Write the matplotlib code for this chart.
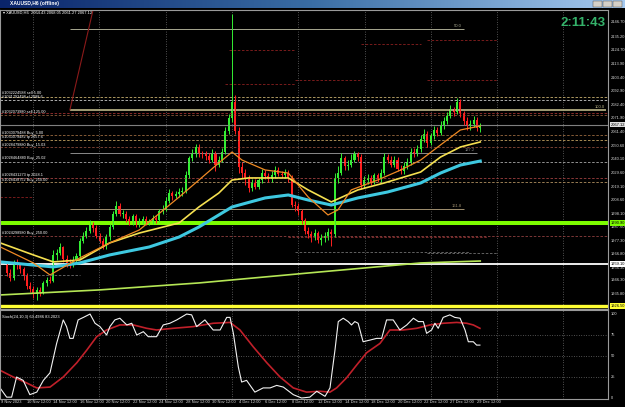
import matplotlib
matplotlib.use("Agg")
import matplotlib.pyplot as plt
import numpy as np
from matplotlib.colors import LinearSegmentedColormap
from matplotlib.patches import Rectangle

plt.rcParams['font.family'] = ['Liberation Sans', 'DejaVu Sans']

# XAUUSD H6 bars, index 0 = 9 Nov 2023 00:00
first_open = 1958.0
closes = [1952, 1948, 1960, 1958, 1955, 1950, 1942, 1940,
          1936, 1939, 1937, 1944, 1947, 1946, 1966, 1968,
          1972, 1963, 1960, 1959, 1962, 1965, 1977, 1981,
          1985, 1990, 1987, 1981, 1977, 1973, 1980, 1988,
          1998, 2004, 1998, 1998, 1994, 1991, 1996, 1990,
          1992, 1994, 1991, 1992, 1995, 1993, 2000, 2002,
          2008, 2014, 2012, 2013, 2015, 2016, 2028, 2041,
          2044, 2050, 2045, 2044, 2043, 2040, 2045, 2036,
          2040, 2046, 2062, 2072, 2085, 2062, 2034, 2030,
          2025, 2018, 2022, 2019, 2024, 2030, 2027, 2025,
          2028, 2032, 2029, 2028, 2030, 2026, 2005, 2004,
          2000, 1993, 1985, 1982, 1980, 1983, 1978, 1979,
          1981, 1984, 1982, 2026, 2030, 2041, 2035, 2036,
          2040, 2044, 2042, 2020, 2024, 2026, 2023, 2028,
          2025, 2030, 2042, 2040, 2036, 2040, 2033, 2031,
          2035, 2038, 2046, 2045, 2048, 2056, 2060, 2053,
          2058, 2063, 2061, 2067, 2070, 2074, 2079, 2077,
          2085, 2076, 2070, 2066, 2068, 2071, 2064.43, 2067.12]
highs = [1960, 1955, 1962, 1963, 1960, 1957, 1952, 1945,
         1942, 1941, 1941, 1946, 1949, 1950, 1970, 1971,
         1975, 1973, 1966, 1963, 1965, 1968, 1979, 1984,
         1988, 1993, 1992, 1989, 1983, 1979, 1982, 1990,
         2000, 2008, 2006, 2001, 2000, 1996, 1998, 1998,
         1995, 1996, 1996, 1994, 1997, 1997, 2002, 2005,
         2011, 2017, 2016, 2016, 2018, 2019, 2031, 2043,
         2048, 2052, 2052, 2047, 2047, 2045, 2048, 2047,
         2043, 2049, 2065, 2075, 2153, 2090, 2065, 2038,
         2033, 2028, 2025, 2025, 2026, 2033, 2032, 2030,
         2031, 2035, 2034, 2031, 2033, 2032, 2028, 2008,
         2006, 2002, 1995, 1988, 1985, 1986, 1985, 1982,
         1984, 1987, 1986, 2030, 2035, 2045, 2043, 2040,
         2044, 2047, 2046, 2044, 2027, 2029, 2028, 2030,
         2030, 2033, 2045, 2044, 2043, 2043, 2042, 2036,
         2038, 2041, 2049, 2049, 2051, 2059, 2064, 2062,
         2061, 2066, 2065, 2070, 2073, 2077, 2082, 2081,
         2088, 2087, 2078, 2073, 2071, 2074, 2073, 2068.05]
lows = [1950, 1946, 1947, 1955, 1952, 1947, 1940, 1937,
        1933, 1931, 1934, 1936, 1942, 1944, 1945, 1962,
        1966, 1961, 1957, 1956, 1957, 1960, 1963, 1975,
        1979, 1983, 1984, 1979, 1975, 1971, 1971, 1978,
        1986, 1996, 1996, 1995, 1992, 1989, 1989, 1988,
        1988, 1990, 1989, 1989, 1990, 1991, 1992, 1998,
        2000, 2006, 2009, 2010, 2011, 2012, 2014, 2026,
        2039, 2042, 2042, 2041, 2040, 2037, 2038, 2031,
        2034, 2038, 2044, 2060, 2069, 2060, 2030, 2026,
        2020, 2015, 2016, 2017, 2017, 2022, 2025, 2023,
        2023, 2026, 2027, 2026, 2026, 2023, 2003, 2000,
        1997, 1990, 1982, 1979, 1976, 1978, 1975, 1974,
        1976, 1978, 1973, 1980, 2022, 2028, 2032, 2032,
        2034, 2038, 2039, 2017, 2018, 2021, 2020, 2021,
        2023, 2023, 2028, 2037, 2034, 2034, 2031, 2029,
        2029, 2033, 2036, 2042, 2043, 2046, 2054, 2050,
        2051, 2056, 2058, 2059, 2064, 2068, 2072, 2074,
        2075, 2073, 2067, 2063, 2063, 2065, 2062, 2061.27]

# moving averages (bar index, price)
fast_bars = [-2, 8, 13, 22, 31, 40, 52, 58, 64, 68, 71, 78, 85, 91, 97, 100, 104, 112, 119, 125, 131, 137, 143]
fast_vals = [1972.3, 1959.9, 1950.6, 1963.8, 1975.4, 1985.5, 2011.0, 2024.2, 2037.4, 2045.9, 2039.7, 2032.0,
             2029.6, 2011.0, 1997.1, 2001.0, 2016.5, 2024.2, 2032.0, 2039.7, 2051.4, 2063.0, 2066.1]
mid_bars = [-2, 8, 14, 22, 31, 40, 52, 58, 64, 68, 73, 85, 91, 98, 106, 114, 125, 131, 137, 143]
mid_vals = [1975.4, 1966.1, 1960.7, 1962.2, 1975.4, 1983.1, 1990.9, 2003.3, 2014.1, 2024.2, 2025.8, 2025.8,
            2016.5, 2007.2, 2016.5, 2021.9, 2030.4, 2042.0, 2049.8, 2053.7]
slow_bars = [-2, 14, 22, 31, 43, 52, 58, 68, 78, 85, 91, 98, 106, 115, 125, 131, 137, 143]
slow_vals = [1960.7, 1956.8, 1959.9, 1966.1, 1972.3, 1980.0, 1987.8, 2003.3, 2010.3, 2012.6, 2008.7, 2004.8,
             2010.3, 2014.9, 2021.9, 2029.6, 2035.8, 2038.9]
long_bars = [-2, 28, 58, 91, 125, 143]
long_vals = [1935.1, 1939.0, 1944.4, 1952.1, 1959.9, 1961.4]

# stochastic (bar index, value)
k_bars = [-2.1, -0.1, 1.4, 2.9, 4.9, 6.9, 9.0, 11.0, 13.0, 15.0, 17.0, 18.0, 19.0, 20.0, 21.5, 23.1, 25.1,
          26.6, 28.1, 30.1, 31.1, 32.6, 34.1, 36.2, 37.7, 39.2, 41.2, 42.7, 45.2, 47.2, 49.2, 51.3, 54.3,
          55.8, 57.3, 59.8, 62.3, 64.4, 66.4, 67.4, 68.4, 69.9, 70.9, 72.4, 74.9, 77.4, 79.5, 81.5, 83.5,
          86.5, 89.0, 91.5, 93.6, 96.1, 97.6, 99.1, 100.1, 101.6, 103.1, 104.1, 105.1, 106.1, 107.6, 109.7,
          111.7, 113.2, 114.7, 116.7, 118.7, 120.8, 122.8, 124.3, 125.8, 126.8, 128.3, 129.3, 130.3, 131.8,
          133.8, 135.3, 136.9, 138.4, 139.4, 140.9, 141.9, 142.9]
k_vals = [12, 1, 1, 25, 21, 4, 7, 21, 30, 65, 93, 85, 71, 71, 93, 96, 100,
          89, 85, 75, 85, 93, 95, 87, 89, 75, 79, 73, 73, 87, 89, 93, 100,
          99, 85, 93, 81, 81, 96, 96, 77, 37, 19, 21, 7, 12, 12, 15, 13,
          4, 0, 1, 8, 2, 12, 57, 91, 95, 91, 87, 91, 89, 67, 69,
          71, 71, 93, 93, 81, 87, 95, 91, 91, 77, 81, 89, 83, 96,
          99, 96, 95, 81, 67, 67, 63, 63]
d_bars = [-2.1, 1.9, 5.9, 9.0, 13.0, 17.0, 21.1, 24.1, 27.1, 30.1, 34.1, 38.2, 42.2, 45.2, 50.2, 56.3, 62.3,
          67.4, 70.4, 74.4, 78.5, 82.5, 86.5, 90.5, 94.6, 97.6, 99.6, 102.6, 105.6, 108.7, 112.7, 115.7,
          119.7, 123.8, 127.8, 131.8, 135.9, 138.9, 140.9, 142.9]
d_vals = [33, 25, 18, 12, 13, 25, 42, 57, 73, 81, 87, 87, 83, 81, 83, 85, 89,
          90, 81, 61, 42, 25, 12, 7, 8, 7, 12, 24, 39, 54, 65, 81,
          81, 83, 87, 89, 90, 89, 87, 83]

# horizontal levels
level_prices = [1926.5, 1959.1, 1990.9]
level_colors = ['#ffff33', '#ffffff', '#7cfc00']
level_widths = [2.4, 1.3, 2.9]
bid_price = 2067.12

dash_prices = [2088.6, 2086.2, 2076.2, 2074.6, 2059.1, 2055.2, 2049.8, 2038.2, 2025.8, 2022.7, 1980.8]
dash_colors = ['#c8b070', '#c8c8c8', '#a03030', '#8a5a3a', '#9a6a40', '#c0a060', '#8a4a3a',
               '#a8a8a8', '#a04040', '#b09060', '#904040']

seg_prices = [2125.0, 2098.6, 2101.7, 2129.6, 2132.7, 2101.7, 2011.1, 1980.0, 1968.4, 1950.6, 1967.6]
seg_start = [67, 66, 87, 107, 127, 127, -2, 85, 87, -2, 127]
seg_end = [87, 87, 107, 125, 148, 148, 8, 145, 140, 22, 148]
seg_colors = ['#8b2020', '#8b2020', '#8b2020', '#8b2020', '#8b2020', '#8b2020', '#8b2020',
              '#8b3030', '#707070', '#707070', '#707070']

fib_levels = ['50.0', '100.0', '127.2', '161.8']
fib_prices = [2141.3, 2078.5, 2045.0, 2001.7]
fib_end = [138, 181, 142, 138]
fib_colors = ['#a8a890', '#bdb78a', '#8a8a8a', '#a09070']
fib_start = 19

trend_bars = [19, 26]
trend_prices = [2078.5, 2156]

price_ticks = [2146.70, 2135.20, 2124.70, 2113.90, 2103.40, 2092.90, 2082.40, 2071.90, 2061.40, 2050.60,
               2040.10, 2029.60, 2019.10, 2008.60, 1998.10, 1987.60, 1977.30, 1966.80, 1956.30, 1946.30, 1935.80]

time_bars = [6, 14, 22, 30, 38, 46, 54, 62, 70, 78, 86, 94, 102, 110, 118, 126, 134, 142]
time_labels = ['10 Nov 12:00', '14 Nov 12:00', '16 Nov 12:00', '20 Nov 12:00', '22 Nov 12:00',
               '24 Nov 12:00', '28 Nov 12:00', '30 Nov 12:00', '4 Dec 12:00', '6 Dec 12:00',
               '8 Dec 12:00', '12 Dec 12:00', '14 Dec 12:00', '18 Dec 12:00', '20 Dec 12:00',
               '22 Dec 12:00', '27 Dec 12:00', '29 Dec 12:00']

order_prices = [2091.7, 2088.6, 2076.9, 2060.7, 2057.6, 2051.4, 2041.3, 2028.1, 2024.2, 1983.1]
order_labels = ['#1032224588 sell 5.00', '#1031792498 sl 2088.6', '#1032073980 sell 125.00',
                '#1030079488 Buy_5.00', '#1030079482 tp 2057.6', '#1028479880 Buy_15.03',
                '#1028464880 Buy_25.02', '#1028431273 tp 2028.1', '#1028438752 Buy_250.00',
                '#1024298980 Buy_250.00']

W, H = 625, 407
fig = plt.figure(figsize=(W / 100, H / 100), dpi=100, facecolor='black')

x_left, x_right = -2.11, 181.6
grid_x = np.arange(7.9, x_right, 20.03)
grid_kw = dict(color='#9a9a9a', lw=0.5, ls=(0, (1, 2.5)))

# ---------------- main price panel ----------------
ax = fig.add_axes([0, 1 - 309 / H, 608 / W, 299 / H], facecolor='black')
ax.set_xlim(x_left, x_right)
ax.set_ylim(1924.2, 2156.0)

for gx in grid_x:
    ax.axvline(gx, **grid_kw)

for p, c in zip(dash_prices, dash_colors):
    ax.axhline(p, color=c, lw=0.6, ls=(0, (3, 2)))
for p, x0, x1, c in zip(seg_prices, seg_start, seg_end, seg_colors):
    ax.hlines(p, x0, x1, color=c, lw=0.6, ls=(0, (3, 2)))
for lab, p, x1, c in zip(fib_levels, fib_prices, fib_end, fib_colors):
    ax.hlines(p, fib_start, x1, color=c, lw=1.2 if lab == '100.0' else 0.7)
    ax.text(x1 - 0.5, p + 1, lab, color=c, fontsize=3.0, ha='right', va='bottom')
ax.plot(trend_bars, trend_prices, color='#8b1a1a', lw=0.8)
ax.axhline(bid_price, color='#808080', lw=0.8)
for p, c, w in zip(level_prices, level_colors, level_widths):
    ax.axhline(p, color=c, lw=w)

# candles
c = np.array(closes, dtype=float)
o = np.r_[first_open, c[:-1]]
h = np.array(highs, dtype=float)
lo = np.array(lows, dtype=float)
x = np.arange(len(c))
cols = np.where(c >= o, '#33ee33', '#ff1f1f')
ax.vlines(x, lo, h, colors=cols, lw=0.7)
ax.bar(x, np.maximum(np.abs(c - o), 0.4), bottom=np.minimum(o, c), width=0.62, color=cols, lw=0)

ax.plot(long_bars, long_vals, color='#b5e655', lw=1.2)
ax.plot(slow_bars, slow_vals, color='#3ec8e0', lw=2.2)
ax.plot(mid_bars, mid_vals, color='#f5e050', lw=1.2)
ax.plot(fast_bars, fast_vals, color='#f08a24', lw=0.9)

for p, lab in zip(order_prices, order_labels):
    ax.text(-1.6, p, lab, color='white', fontsize=2.8, va='center', ha='left')

ytr = ax.get_yaxis_transform()
for p in price_ticks:
    ax.text(1.004, p, f'{p:.2f}', transform=ytr, color='#d8d8d8', fontsize=2.9, va='center', ha='left')
box_prices = level_prices + [bid_price]
box_colors = level_colors + ['#e0e0e0']
for p, bc in zip(box_prices, box_colors):
    ax.text(1.004, p, f'{p:.2f}', transform=ytr, color='black', fontsize=2.9, va='center', ha='left',
            bbox=dict(boxstyle='square,pad=0.15', fc=bc, ec='none'))

ax.set_xticks([])
ax.set_yticks([])
for s in ax.spines.values():
    s.set_color('#9a9a9a')
    s.set_linewidth(0.8)

# ---------------- stochastic panel ----------------
ax2 = fig.add_axes([0, 1 - 399 / H, 608 / W, 89 / H], facecolor='black')
ax2.set_xlim(x_left, x_right)
ax2.set_ylim(-1.2, 104.8)
for gx in grid_x:
    ax2.axvline(gx, **grid_kw)
for gy in [25, 50, 75]:
    ax2.axhline(gy, **grid_kw)
ax2.plot(d_bars, d_vals, color='#c0202a', lw=1.2)
ax2.plot(k_bars, k_vals, color='#f2f2f2', lw=0.8)
ax2.text(-1.6, 96, 'Stoch(24,10,3) 63.4986 83.2023', color='white', fontsize=2.9, va='center')
ytr2 = ax2.get_yaxis_transform()
for v in [100, 75, 50, 25, 0]:
    ax2.text(1.004, v, str(v), transform=ytr2, color='#d8d8d8', fontsize=2.9, va='center', ha='left')
xtr2 = ax2.get_xaxis_transform()
ax2.text(0.002, -0.015, '9 Nov 2023', transform=ax2.transAxes, color='#d8d8d8', fontsize=2.9,
         va='top', ha='left')
for b, lab in zip(time_bars, time_labels):
    ax2.text(b, -0.015, lab, transform=xtr2, color='#d8d8d8', fontsize=2.9, va='top', ha='left')
ax2.set_xticks([])
ax2.set_yticks([])
for s in ax2.spines.values():
    s.set_color('#9a9a9a')
    s.set_linewidth(0.8)

# ---------------- window chrome ----------------
axt = fig.add_axes([0, 1 - 8 / H, 1, 8 / H])
grad = LinearSegmentedColormap.from_list('tb', ['#0a246a', '#3a6ea5', '#a6caf0'])
axt.imshow(np.linspace(0, 1, 256)[None, :], aspect='auto', cmap=grad, extent=[0, 1, 0, 1])
axt.text(0.016, 0.5, 'XAUUSD,H6 (offline)', color='white', fontsize=3.6, fontweight='bold', va='center')
for bx in [0.956, 0.972, 0.988]:
    axt.add_patch(Rectangle((bx - 0.007, 0.1), 0.014, 0.8, fc='#d4d0c8', ec='#404040', lw=0.3))
axt.set_xlim(0, 1)
axt.set_ylim(0, 1)
axt.axis('off')

fig.text(3 / W, 1 - 13 / H, '\u25be XAUUSD,H6  2064.43 2068.05 2061.27 2067.12', color='white', fontsize=2.9,
         va='center', ha='left')
fig.text(606 / W, 1 - 23 / H, '2:11:43', color='#34b26a', fontsize=9.5, fontweight='bold',
         va='center', ha='right')

fig.savefig('out.png', dpi=100, facecolor='black')
